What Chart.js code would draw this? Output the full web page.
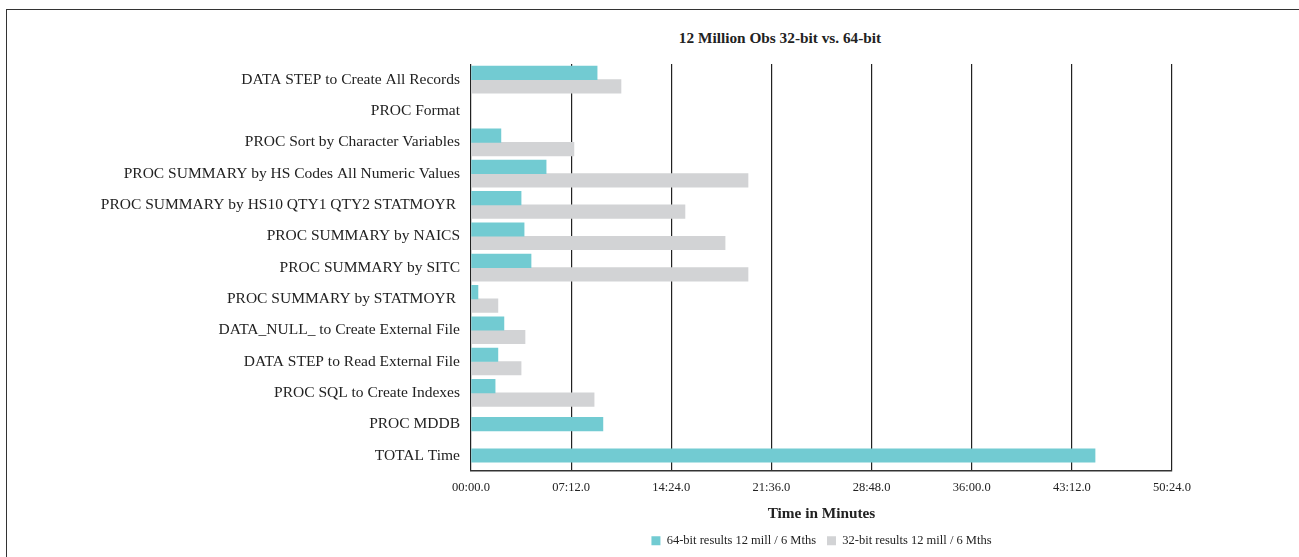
<!DOCTYPE html>
<html>
<head>
<meta charset="utf-8">
<script src="https://cdn.jsdelivr.net/npm/chart.js@4"></script>
<style>
  html, body { margin: 0; padding: 0; background: #fff; }
  body { width: 1299px; height: 557px; position: relative; overflow: hidden; }
  #frame {
    position: absolute; left: 6px; top: 9px; width: 1293px; height: 548px;
    border-left: 1.5px solid #333; border-top: 1.5px solid #333;
  }
  #title {
    position: absolute; left: 580px; top: 29px; width: 400px; text-align: center;
    font: bold 15.3px "Liberation Serif", "Times New Roman", serif; line-height: 18px; color: #222;
  }
  #wrap { position: absolute; left: 8px; top: 10px; width: 1291px; height: 547px; }
</style>
</head>
<body>
<div id="frame"></div>
<div id="title">12 Million Obs 32-bit vs. 64-bit</div>
<div id="wrap"><canvas id="timesChart"></canvas></div>
<script>
// job steps, top to bottom
const steps = [
  "DATA STEP to Create All Records",
  "PROC Format",
  "PROC Sort by Character Variables",
  "PROC SUMMARY by HS Codes All Numeric Values",
  "PROC SUMMARY by HS10 QTY1 QTY2 STATMOYR ",
  "PROC SUMMARY by NAICS",
  "PROC SUMMARY by SITC",
  "PROC SUMMARY by STATMOYR ",
  "DATA_NULL_ to Create External File",
  "DATA STEP to Read External File",
  "PROC SQL to Create Indexes",
  "PROC MDDB",
  "TOTAL Time"
];

// elapsed seconds (null = no bar)
const secs64 = [544, null, 129, 324, 216, 229, 259, 30, 142, 116, 104, 569, 2692];
const secs32 = [647, null, 444, 1195, 923, 1096, 1195, 116, 233, 216, 531, null, null];

const seriesNames = ["64-bit results 12 mill / 6 Mths", "32-bit results 12 mill / 6 Mths"];
const axisMax = 3024;   // 50:24.0
const axisStep = 432;   // 07:12.0

const serif = '"Liberation Serif", "Times New Roman", serif';
Chart.defaults.font.family = serif;
Chart.defaults.color = "#222";

function mmss(v) {
  const m = Math.floor(v / 60);
  const s = v - m * 60;
  return String(m).padStart(2, "0") + ":" + String(s).padStart(2, "0") + ".0";
}

const ctx = document.getElementById("timesChart").getContext("2d");
new Chart(ctx, {
  type: "bar",
  data: {
    labels: steps,
    datasets: [
      { label: seriesNames[0], data: secs64, backgroundColor: "#72cbd2", skipNull: true, barThickness: 13.5 },
      { label: seriesNames[1], data: secs32, backgroundColor: "#d2d3d5", skipNull: true, barThickness: 13.5 }
    ]
  },
  options: {
    indexAxis: "y",
    responsive: true,
    maintainAspectRatio: false,
    animation: false,
    layout: { padding: { top: 54, right: 127, left: 0, bottom: 0 } },
    scales: {
      x: {
        min: 0,
        max: axisMax,
        afterBuildTicks: (scale) => {
          const t = [];
          for (let v = 0; v <= axisMax; v += axisStep) t.push({ value: v });
          scale.ticks = t;
        },
        ticks: {
          autoSkip: false,
          maxRotation: 0,
          padding: 9,
          font: { size: 12.5 },
          callback: (v) => mmss(v)
        },
        grid: { color: "#222", lineWidth: 1.2, drawTicks: false },
        border: { color: "#333", width: 1.5 },
        title: {
          display: true,
          text: "Time in Minutes",
          font: { size: 15.3, weight: "bold" },
          padding: { top: 1, bottom: 0 }
        }
      },
      y: {
        afterFit: (scale) => { scale.width = 463; },
        ticks: { padding: 11, font: { size: 15.5 }, color: "#222" },
        grid: { display: false, drawTicks: false },
        border: { display: false }
      }
    },
    plugins: {
      legend: {
        position: "bottom",
        fullSize: false,
        labels: { boxWidth: 9, boxHeight: 9, padding: 11, font: { size: 12.5 } }
      },
      tooltip: { enabled: false }
    }
  }
});
</script>
</body>
</html>
